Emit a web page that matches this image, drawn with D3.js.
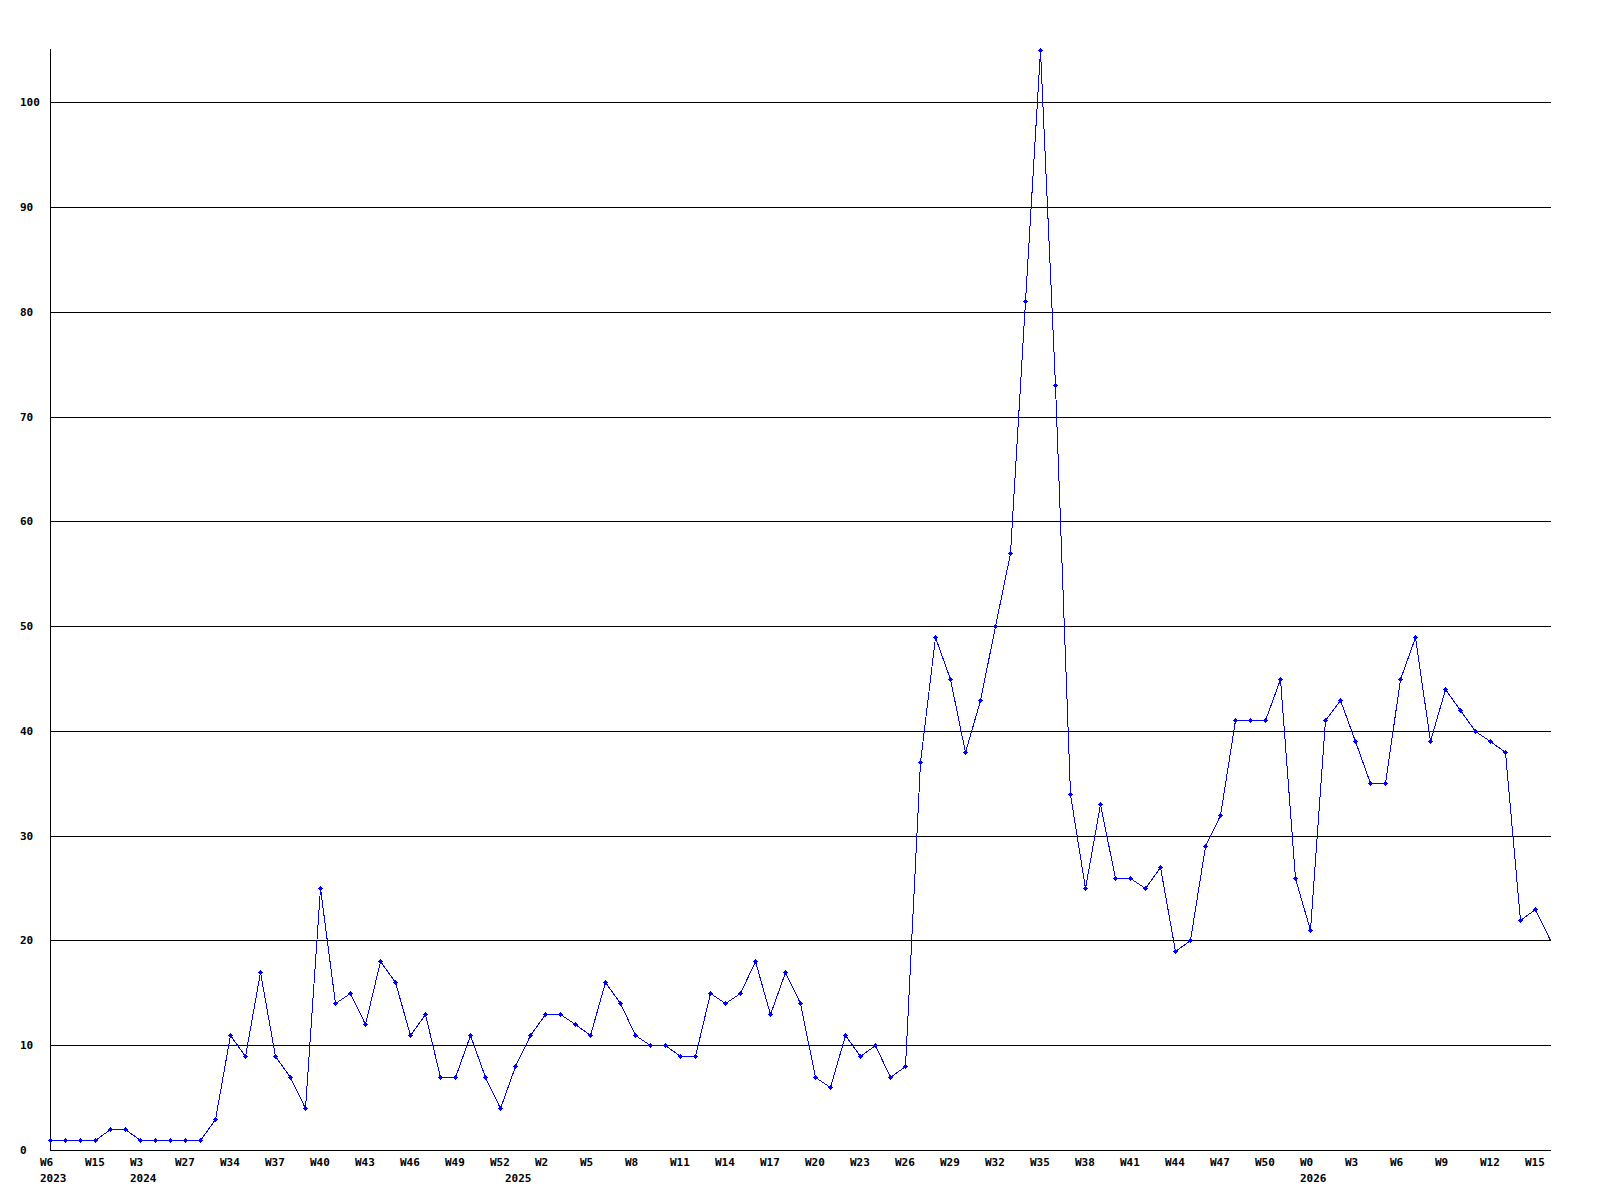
<!DOCTYPE html>
<html>
<head>
<meta charset="utf-8">
<script src="https://cdn.jsdelivr.net/npm/d3@7"></script>
<style>
  body { margin:0; background:#fff; }
  text { font-family: "DejaVu Sans Mono", "Liberation Mono", monospace; font-weight: bold; font-size: 11px; fill:#000; }
</style>
</head>
<body>
<div class="canvas"></div>
<script>
// weekly counts, one per point (101 weeks)
var counts = [
    1,1,1,1,2,2,1,1,1,1,1,
    3,11,9,17,9,7,4,25,14,15,12,18,16,11,
    13,7,7,11,7,4,8,11,13,13,12,11,16,14,11,10,10,9,9,15,14,15,18,13,17,14,7,
    6,11,9,10,7,8,37,49,45,38,43,50,57,81,105,73,34,25,33,26,26,25,27,19,20,29,
    32,41,41,41,45,26,21,41,43,39,35,35,45,49,39,44,42,40,39,38,22,23,20
];

// labels shown under every 3rd point
var weekLabels = ['W6','W15','W3','W27','W34','W37','W40','W43','W46','W49','W52','W2',
    'W5','W8','W11','W14','W17','W20','W23','W26','W29','W32','W35','W38','W41','W44',
    'W47','W50','W0','W3','W6','W9','W12','W15'];

// year labels and the point where each year starts
var years = ['2023','2024','2025','2026'];
var yearStart = [0, 6, 31, 84];

var yTicks = [0,10,20,30,40,50,60,70,80,90,100];

var m = {t:50,r:50,b:50,l:50},
    w = 1600, h = 1200;

var svg = d3.select('.canvas')
    .append('svg')
    .attr('width', w)
    .attr('height', h);

var x = d3.scaleLinear().domain([0, counts.length - 1]).range([50, 1550]);
var y = d3.scaleLinear().domain([0, 105]).range([1150, 50]);

function px(v){ return Math.round(v) + 0.5; }

// gridlines
svg.selectAll('.grid')
    .data(yTicks.filter(function(d){ return d > 0; }))
    .enter()
    .append('line').attr('class','grid')
    .attr('x1', 50).attr('x2', 1551)
    .attr('y1', function(d){ return px(y(d)); })
    .attr('y2', function(d){ return px(y(d)); })
    .style('stroke','#000')
    .style('shape-rendering','crispEdges');

// axes
svg.append('line')
    .attr('x1', 50.5).attr('x2', 50.5).attr('y1', 49).attr('y2', 1151)
    .style('stroke','#000').style('shape-rendering','crispEdges');
svg.append('line')
    .attr('x1', 50).attr('x2', 1551).attr('y1', px(y(0))).attr('y2', px(y(0)))
    .style('stroke','#000').style('shape-rendering','crispEdges');

// y tick labels
svg.selectAll('.ylab')
    .data(yTicks)
    .enter()
    .append('text').attr('class','ylab')
    .attr('x', 20)
    .attr('y', function(d){ return y(d) + 4; })
    .text(function(d){ return d; });

// x tick labels
svg.selectAll('.xlab')
    .data(weekLabels)
    .enter()
    .append('text').attr('class','xlab')
    .attr('x', function(d,i){ return x(i*3) - 10; })
    .attr('y', 1166)
    .text(function(d){ return d; });

svg.selectAll('.year')
    .data(years)
    .enter()
    .append('text').attr('class','year')
    .attr('x', function(d,i){ return x(yearStart[i]) - 10; })
    .attr('y', 1182)
    .text(function(d){ return d; });

// the line
var line = d3.line()
    .x(function(d,i){ return px(x(i)); })
    .y(function(d){ return px(y(d)); });

svg.append('path')
    .datum(counts)
    .attr('d', line)
    .style('fill','none')
    .style('stroke','#0000ff')
    .style('stroke-width',1)
    .style('shape-rendering','crispEdges');

// markers (last week has none)
svg.selectAll('.dot')
    .data(counts.slice(0, counts.length - 1))
    .enter()
    .append('path').attr('class','dot')
    .attr('transform', function(d,i){ return 'translate(' + px(x(i)) + ',' + px(y(d)) + ')'; })
    .attr('d', 'M-2.5,-0.5h5v1h-5z M-0.5,-2.5h1v5h-1z M-1.5,-1.5h3v3h-3z')
    .style('fill','#0000ff')
    .style('shape-rendering','crispEdges');
</script>
</body>
</html>
